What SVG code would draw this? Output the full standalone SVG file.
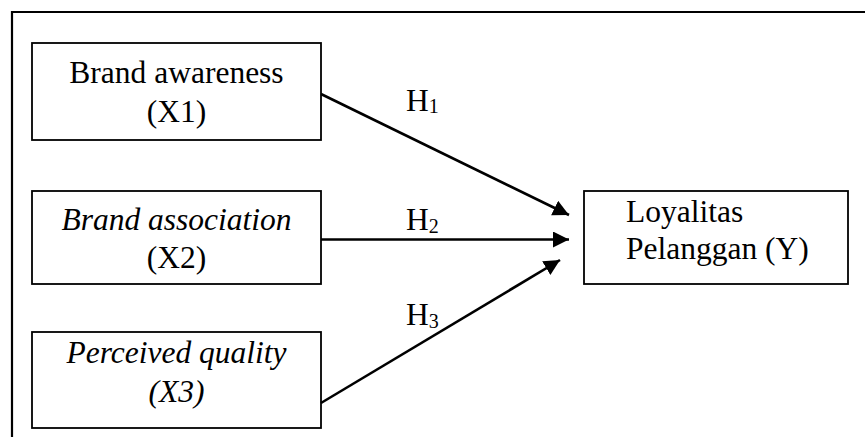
<svg xmlns="http://www.w3.org/2000/svg" width="865" height="437" viewBox="0 0 865 437">
<style>
  .box { fill: #fff; stroke: #000; stroke-width: 1.8; }
  .t { font-family: "Liberation Serif", "Times New Roman", serif; font-size: 31.5px; fill: #000; }
  .c { text-anchor: middle; }
  .i { font-style: italic; }
  .sub { font-size: 20px; }
  .conn { stroke: #000; stroke-width: 2.6; fill: none; marker-end: url(#arrow); }
  .frame { stroke: #000; stroke-width: 2.2; fill: none; }
</style>
<defs>
  <marker id="arrow" markerUnits="userSpaceOnUse" markerWidth="18" markerHeight="18" refX="16" refY="8" orient="auto">
    <path d="M0,0 L16,8 L0,16 Z" fill="#000"/>
  </marker>
</defs>
<rect width="865" height="437" fill="#fff"/>
<path class="frame" d="M12,437 L12,12 L865,12"/>

<g id="x1">
  <rect class="box" x="32" y="43" width="289" height="97"/>
  <text class="t c" x="176.5" y="83">Brand awareness</text>
  <text class="t c" x="176.5" y="122">(X1)</text>
</g>
<g id="x2">
  <rect class="box" x="32" y="191" width="289" height="93"/>
  <text class="t c i" x="176.5" y="230">Brand association</text>
  <text class="t c" x="176.5" y="268">(X2)</text>
</g>
<g id="x3">
  <rect class="box" x="32" y="332" width="289" height="96"/>
  <text class="t c i" x="176.5" y="363">Perceived quality</text>
  <text class="t c i" x="176.5" y="402">(X3)</text>
</g>
<g id="y">
  <rect class="box" x="584" y="191" width="264" height="93"/>
  <text class="t" x="626" y="222">Loyalitas</text>
  <text class="t" x="626" y="259">Pelanggan (Y)</text>
</g>

<g id="connectors">
  <line class="conn" x1="321" y1="94" x2="569" y2="215"/>
  <line class="conn" x1="321" y1="239.5" x2="569" y2="239.5"/>
  <line class="conn" x1="321" y1="403" x2="560" y2="260"/>
  <text class="t" x="406" y="111">H<tspan class="sub" dy="2">1</tspan></text>
  <text class="t" x="406" y="230">H<tspan class="sub" dy="3">2</tspan></text>
  <text class="t" x="406" y="325">H<tspan class="sub" dy="3">3</tspan></text>
</g>
</svg>
